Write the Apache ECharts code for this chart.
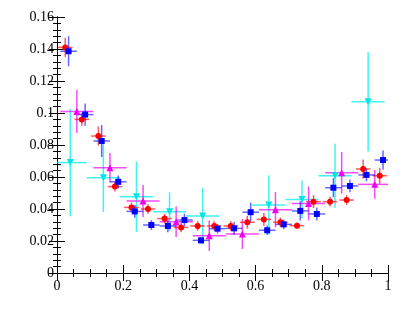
<!DOCTYPE html>
<html>
<head>
<meta charset="utf-8">
<script src="https://cdn.jsdelivr.net/npm/echarts@6/dist/echarts.min.js"></script>
<style>
  html, body { margin: 0; padding: 0; background: #fff; }
  #chart { width: 409px; height: 327px; }
</style>
</head>
<body>
<div id="chart"></div>
<script>
// red circles: 20 bins
const redX  = [0.025, 0.075, 0.125, 0.175, 0.225, 0.275, 0.325, 0.375, 0.425, 0.475, 0.525, 0.575, 0.625, 0.675, 0.725, 0.775, 0.825, 0.875, 0.925, 0.975]
const redY  = [0.141, 0.096, 0.0856, 0.054, 0.041, 0.040, 0.034, 0.0285, 0.0294, 0.0294, 0.0294, 0.0317, 0.0335, 0.0317, 0.0296, 0.0446, 0.0446, 0.0456, 0.065, 0.0608]
const redEy = [0.006, 0.004, 0.006, 0.003, 0.003, 0.003, 0.003, 0.003, 0.003, 0.003, 0.003, 0.004, 0.004, 0.003, 0.002, 0.004, 0.003, 0.003, 0.006, 0.005]

// blue squares: 20 bins, shifted a bit right
const blueX  = [0.035, 0.085, 0.135, 0.185, 0.235, 0.285, 0.335, 0.385, 0.435, 0.485, 0.535, 0.585, 0.635, 0.685, 0.735, 0.785, 0.835, 0.885, 0.935, 0.985]
const blueY  = [0.1386, 0.099, 0.0825, 0.057, 0.0385, 0.030, 0.0294, 0.0331, 0.0204, 0.0277, 0.0279, 0.038, 0.0267, 0.0304, 0.0388, 0.0369, 0.0533, 0.0544, 0.0613, 0.0706]
const blueEy = [0.0094, 0.007, 0.01, 0.004, 0.004, 0.003, 0.004, 0.004, 0.002, 0.003, 0.004, 0.006, 0.003, 0.003, 0.006, 0.004, 0.006, 0.004, 0.004, 0.006]

// magenta triangles: 10 bins
const magX  = [0.06, 0.16, 0.26, 0.36, 0.46, 0.56, 0.66, 0.76, 0.86, 0.96]
const magY  = [0.101, 0.0658, 0.045, 0.032, 0.0233, 0.0244, 0.0396, 0.0435, 0.0627, 0.0554]
const magEy = [0.0135, 0.0092, 0.01, 0.0095, 0.0095, 0.0094, 0.011, 0.0106, 0.013, 0.009]

// cyan down-triangles: 10 bins (one empty)
const cyanX  = [0.04, 0.14, 0.24, 0.34, 0.44, 0.54, 0.64, 0.74, 0.84, 0.94]
const cyanY  = [0.069, 0.0596, 0.0477, 0.0383, 0.0356, null, 0.0425, 0.046, 0.0608, 0.107]
const cyanEy = [0.0335, 0.0215, 0.022, 0.012, 0.0175, null, 0.0184, 0.0118, 0.02, 0.031]

const font = 'Liberation Serif'

const build = (xs, ys, eys, ex) => xs
  .map((x, i) => [x, ys[i], ex, eys[i]])
  .filter(d => d[1] != null)

const errSeries = (data, color) => ({
  type: 'custom',
  data,
  z: 2,
  renderItem: (params, api) => {
    const x = api.value(0), y = api.value(1), ex = api.value(2), ey = api.value(3)
    const l = api.coord([Math.max(0, x - ex), y])
    const r = api.coord([Math.min(1, x + ex), y])
    const t = api.coord([x, Math.min(0.16, y + ey)])
    const b = api.coord([x, Math.max(0, y - ey)])
    const style = { stroke: color, lineWidth: 1.5 }
    return {
      type: 'group',
      children: [
        { type: 'line', shape: { x1: l[0], y1: l[1], x2: r[0], y2: r[1] }, style },
        { type: 'line', shape: { x1: t[0], y1: t[1], x2: b[0], y2: b[1] }, style }
      ]
    }
  }
})

const markSeries = (data, color, symbol, size, rotate) => ({
  type: 'scatter',
  data: data.map(d => [d[0], d[1]]),
  symbol,
  symbolSize: size,
  symbolRotate: rotate || 0,
  itemStyle: { color, opacity: 1 },
  z: 3
})

const cyan = build(cyanX, cyanY, cyanEy, 0.05)
const mag = build(magX, magY, magEy, 0.05)
const red = build(redX, redY, redEy, 0.022)
const blue = build(blueX, blueY, blueEy, 0.025)

const axisCommon = {
  axisLine: { lineStyle: { color: '#000', width: 1 } },
  axisTick: { inside: true, length: 8, lineStyle: { color: '#000' } },
  minorTick: { show: true, length: 4, lineStyle: { color: '#000' } },
  splitLine: { show: false }
}

const chart = echarts.init(document.getElementById('chart'))
chart.setOption({
  animation: false,
  backgroundColor: '#fff',
  grid: { left: 57, right: 21, top: 17, bottom: 54 },
  xAxis: [
    Object.assign({}, axisCommon, {
      type: 'value', min: 0, max: 1, interval: 0.2,
      minorTick: Object.assign({}, axisCommon.minorTick, { splitNumber: 4 }),
      axisLabel: { color: '#000', fontFamily: font, fontSize: 14, margin: 6 }
    }),
    Object.assign({}, axisCommon, {
      type: 'value', min: 0, max: 1, interval: 0.2, position: 'top',
      minorTick: Object.assign({}, axisCommon.minorTick, { splitNumber: 4 }),
      axisLabel: { show: false }
    })
  ],
  yAxis: [
    Object.assign({}, axisCommon, {
      type: 'value', min: 0, max: 0.16, interval: 0.02,
      minorTick: Object.assign({}, axisCommon.minorTick, { splitNumber: 5 }),
      axisLabel: { color: '#000', fontFamily: font, fontSize: 14, margin: 3 }
    }),
    Object.assign({}, axisCommon, {
      type: 'value', min: 0, max: 0.16, interval: 0.02, position: 'right',
      minorTick: Object.assign({}, axisCommon.minorTick, { splitNumber: 5 }),
      axisLabel: { show: false }
    })
  ],
  series: [
    errSeries(cyan, 'rgba(0,238,238,0.75)'),
    markSeries(cyan, '#00e5e5', 'triangle', 7, 180),
    errSeries(mag, 'rgba(240,0,240,0.7)'),
    markSeries(mag, '#f000f0', 'triangle', 7),
    errSeries(red, 'rgba(255,0,0,0.65)'),
    markSeries(red, '#ff0000', 'circle', 6),
    errSeries(blue, 'rgba(0,0,255,0.6)'),
    markSeries(blue, '#0000ff', 'rect', 6)
  ]
})
</script>
</body>
</html>
